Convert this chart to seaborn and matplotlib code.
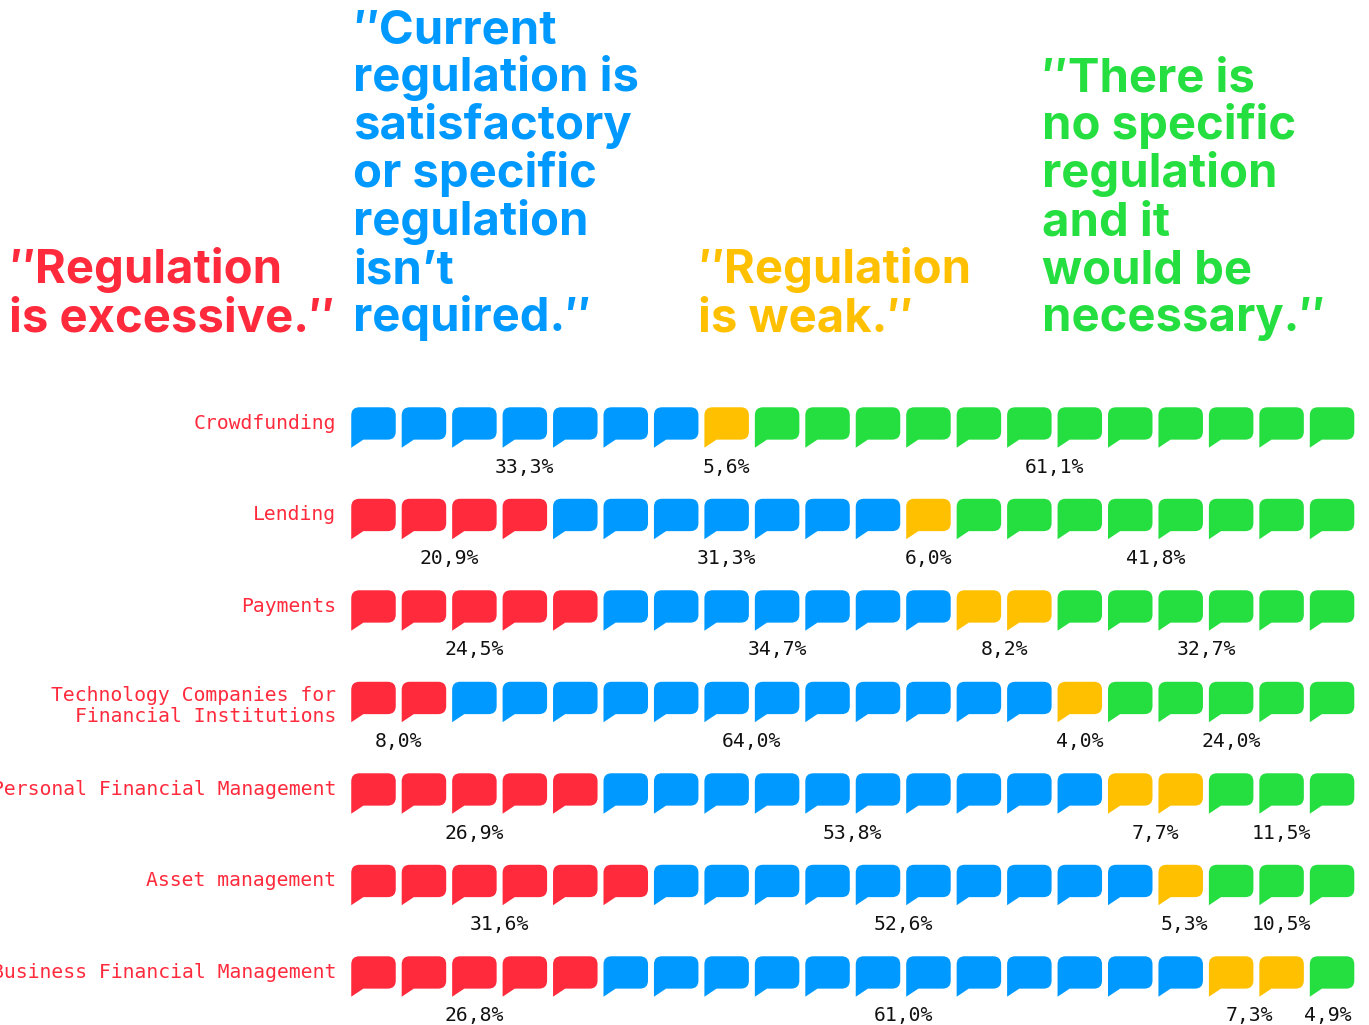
import numpy as np
import pandas as pd
import matplotlib
matplotlib.use('Agg')
import matplotlib.pyplot as plt
from matplotlib.path import Path
import seaborn as sns

# Survey data: bubbles out of 20 and printed shares for each segment
segments = ['Crowdfunding', 'Lending', 'Payments',
            'Technology Companies for\nFinancial Institutions',
            'Personal Financial Management', 'Asset management',
            'Business Financial Management']
excessive = [0, 4, 5, 2, 5, 6, 5]
satisfactory = [7, 7, 7, 12, 10, 10, 12]
weak = [1, 1, 2, 1, 2, 1, 2]
none_needed = [12, 8, 6, 5, 3, 3, 1]

excessive_pct = ['', '20,9%', '24,5%', '8,0%', '26,9%', '31,6%', '26,8%']
satisfactory_pct = ['33,3%', '31,3%', '34,7%', '64,0%', '53,8%', '52,6%', '61,0%']
weak_pct = ['5,6%', '6,0%', '8,2%', '4,0%', '7,7%', '5,3%', '7,3%']
none_needed_pct = ['61,1%', '41,8%', '32,7%', '24,0%', '11,5%', '10,5%', '4,9%']

answers = ['excessive', 'satisfactory', 'weak', 'none']
headings = ['\u2033Regulation\nis excessive.\u2033',
            '\u2033Current\nregulation is\nsatisfactory\nor specific\nregulation\nisn\u2019t\nrequired.\u2033',
            '\u2033Regulation\nis weak.\u2033',
            '\u2033There is\nno specific\nregulation\nand it\nwould be\nnecessary.\u2033']
colors = ['#FF2A3C', '#0099FF', '#FFC000', '#25DE3F']

counts = [excessive, satisfactory, weak, none_needed]
shares = [excessive_pct, satisfactory_pct, weak_pct, none_needed_pct]

# One row per speech bubble
records = []
for row in range(len(segments)):
    col = 0
    for a, name in enumerate(answers):
        for _ in range(counts[a][row]):
            records.append({'row': row, 'col': col, 'answer': name})
            col += 1
df = pd.DataFrame(records)

# Speech bubble marker, drawn in pixels around its centre
r = 8
bubble = Path(
    [(-22, 20), (-22, -20), (-10, -12), (22 - r, -12), (22, -12), (22, -12 + r),
     (22, 20 - r), (22, 20), (22 - r, 20), (-22 + r, 20), (-22, 20), (-22, 20 - r),
     (-22, 20)],
    [Path.MOVETO, Path.LINETO, Path.LINETO, Path.LINETO, Path.CURVE3, Path.CURVE3,
     Path.LINETO, Path.CURVE3, Path.CURVE3, Path.LINETO, Path.CURVE3, Path.CURVE3,
     Path.CLOSEPOLY])

sns.set_style('white')
W, H = 1369, 1025
fig = plt.figure(figsize=(W / 100, H / 100), dpi=100)
ax = fig.add_axes([0, 0, 1, 1])

# scale the axes so a column is 50.45 px and a row is 91.5 px
x0, dx = 373.5, 50.45
y0, dy = 427.5, 91.5
ax.set_xlim(-x0 / dx, (W - x0) / dx)
ax.set_ylim((H - y0) / dy, -y0 / dy)

sns.scatterplot(data=df, x='col', y='row', hue='answer', hue_order=answers,
                palette=colors, marker=bubble, s=(44.5 * 0.72) ** 2, linewidth=0,
                legend=False, ax=ax)
ax.axis('off')

mono = 'DejaVu Sans Mono'

# Segment names
for row, name in enumerate(segments):
    ypos = row - 4 / dy if '\n' not in name else row + 4 / dy
    ax.text(-37.5 / dx, ypos, name, ha='right', va='center', color=colors[0],
            family=mono, fontsize=14.2, linespacing=1.13, clip_on=False)

# a few labels in the narrow groups sit off centre
nudge = {(5, 2): 4, (6, 2): -7, (6, 3): -4}

# Shares, centred below their group of bubbles
for row in range(len(segments)):
    start = 0
    for a in range(4):
        n = counts[a][row]
        if n > 0:
            xpos = start + (n - 1) / 2 + nudge.get((row, a), 0) / dx
            ax.text(xpos, row + 39.5 / dy, shares[a][row], ha='center',
                    va='center', color='#111111', family=mono, fontsize=14.2)
        start += n

# Quote headings, bottom aligned
for name, color, xp in zip(headings, colors, [9, 353, 698, 1042]):
    lines = name.split('\n')
    for i, line in enumerate(lines):
        yp = 331 - 48 * (len(lines) - 1 - i)
        fig.text(xp / W, 1 - yp / H, line, color=color, family=['Inter', 'DejaVu Sans'],
                 fontweight='bold', fontsize=34, ha='left', va='baseline')

fig.savefig('out.png', dpi=100)
